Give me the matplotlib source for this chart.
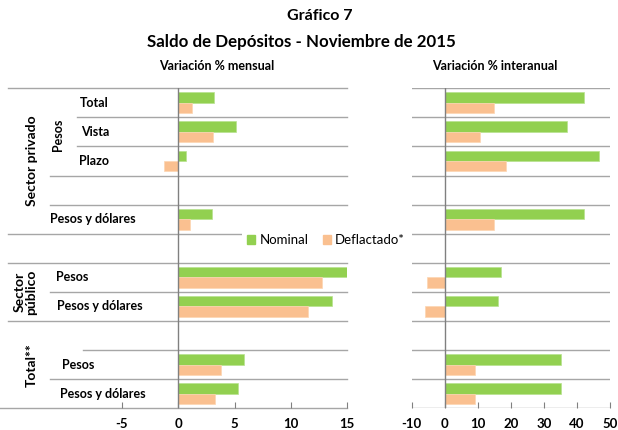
import numpy as np
import matplotlib
matplotlib.use("Agg")
import matplotlib.pyplot as plt
import matplotlib.transforms as mtransforms
from matplotlib.patches import Patch

plt.rcParams['font.family'] = ['Lato', 'DejaVu Sans']

# Datos (variaciones %)
categorias = ['Total', 'Vista', 'Plazo', '', 'Pesos y dólares', '',
              'Pesos', 'Pesos y dólares', '', 'Pesos', 'Pesos y dólares']
mensual_nominal = [3.2, 5.1, 0.7, np.nan, 3.0, np.nan, 15.0, 13.7, np.nan, 5.8, 5.3]
mensual_deflactado = [1.2, 3.1, -1.3, np.nan, 1.0, np.nan, 12.8, 11.5, np.nan, 3.8, 3.3]
interanual_nominal = [42.1, 37.1, 46.8, np.nan, 42.1, np.nan, 16.9, 16.1, np.nan, 35.2, 35.2]
interanual_deflactado = [14.8, 10.8, 18.6, np.nan, 14.8, np.nan, -5.5, -6.1, np.nan, 9.2, 9.2]
grupos = [('Sector privado', 0, 4), ('Sector\npúblico', 6, 7), ('Total**', 8, 10)]
subgrupos = [('Pesos', 0, 2)]

# Layout (pixeles de la figura)
W, H = 618, 430
VERDE = '#92D050'
NARANJA = '#FAC090'
GRIS = '#A6A6A6'
PESO = 'bold'
label_x = [94, 95, 94, 0, 93, 0, 72, 100, 0, 78, 103]
linea_x0 = [8, 77, 77, 50, 50, 8, 8, 50, 8, 83, 50, 0]

fig = plt.figure(figsize=(W / 100, H / 100), dpi=100)
y_top, y_bot = 88.3, 408.3
alto = (y_bot - y_top) / H
ax1 = fig.add_axes([122 / W, 1 - y_bot / H, (347 - 122) / W, alto])
ax2 = fig.add_axes([411.7 / W, 1 - y_bot / H, (610 - 411.7) / W, alto])

n = len(categorias)
y = np.arange(n)
h = 0.36

def dibujar(ax, nom, defl, xlim, ticks):
    ax.barh(y - h / 2, nom, height=h, color=VERDE, edgecolor='#B8E28F', linewidth=0.5, zorder=3)
    ax.barh(y + h / 2, defl, height=h, color=NARANJA, edgecolor='#FCD5B2', linewidth=0.5, zorder=3)
    ax.set_xlim(*xlim)
    ax.set_ylim(n - 0.5, -0.5)
    for s in ax.spines.values():
        s.set_visible(False)
    ax.set_yticks([])
    ax.set_xticks(ticks)
    ax.set_xticklabels([str(t) for t in ticks], fontweight=PESO, fontsize=9.5)
    ax.tick_params(axis='x', direction='in', length=4, color='#808080', pad=7)
    ax.axvline(0, color='#808080', lw=1, zorder=4)
    ax.set_facecolor('none')

dibujar(ax1, mensual_nominal, mensual_deflactado, (-5, 15), [-5, 0, 5, 10, 15])
dibujar(ax2, interanual_nominal, interanual_deflactado, (-10, 50), [-10, 0, 10, 20, 30, 40, 50])

# Separadores de categorias
trans1 = mtransforms.blended_transform_factory(fig.transFigure, ax1.transData)
for b, x0 in zip(np.arange(n + 1) - 0.5, linea_x0):
    ax1.plot([x0 / W, 347 / W], [b, b], transform=trans1, color=GRIS, lw=1,
             clip_on=False, zorder=1)
    ax2.axhline(b, color=GRIS, lw=1, zorder=1)

# Etiquetas de categorias
for i, (cat, lx) in enumerate(zip(categorias, label_x)):
    if cat:
        ax1.text(lx / W, i, cat, transform=trans1, ha='center', va='center',
                 fontsize=9, fontweight=PESO)

grupo_x = {'Sector privado': 32, 'Sector\npúblico': 25, 'Total**': 32}
for nombre, a, b in grupos:
    ax1.text(grupo_x[nombre] / W, (a + b) / 2, nombre, transform=trans1, rotation=90,
             ha='center', va='center', fontsize=10, fontweight=PESO, linespacing=0.95)
for nombre, a, b in subgrupos:
    ax1.text(58 / W, (a + b) / 2 + 0.1, nombre, transform=trans1, rotation=90,
             ha='center', va='center', fontsize=9, fontweight=PESO)

# Titulos
fig.text(320 / W, 1 - 16 / H, 'Gráfico 7', ha='center', va='center', fontsize=11.5, fontweight=PESO)
fig.text(301 / W, 1 - 42 / H, 'Saldo de Depósitos - Noviembre de 2015', ha='center', va='center',
         fontsize=12.2, fontweight=PESO)
fig.text(217 / W, 1 - 66 / H, 'Variación % mensual', ha='center', va='center', fontsize=9, fontweight=PESO)
fig.text(495 / W, 1 - 66 / H, 'Variación % interanual', ha='center', va='center', fontsize=9, fontweight=PESO)

# Leyenda
handles = [Patch(color=VERDE, label='Nominal'), Patch(color=NARANJA, label='Deflactado*')]
leg = fig.legend(handles=handles, loc='center', bbox_to_anchor=(326 / W, 1 - 240 / H), ncol=2,
                 frameon=True, fontsize=9.5, handlelength=0.6, handleheight=0.6,
                 handletextpad=0.3, columnspacing=1.1, borderpad=0.4)
leg.get_frame().set_edgecolor('none')
leg.get_frame().set_facecolor('white')
leg.get_frame().set_alpha(1)

fig.savefig('out.png', dpi=100)
